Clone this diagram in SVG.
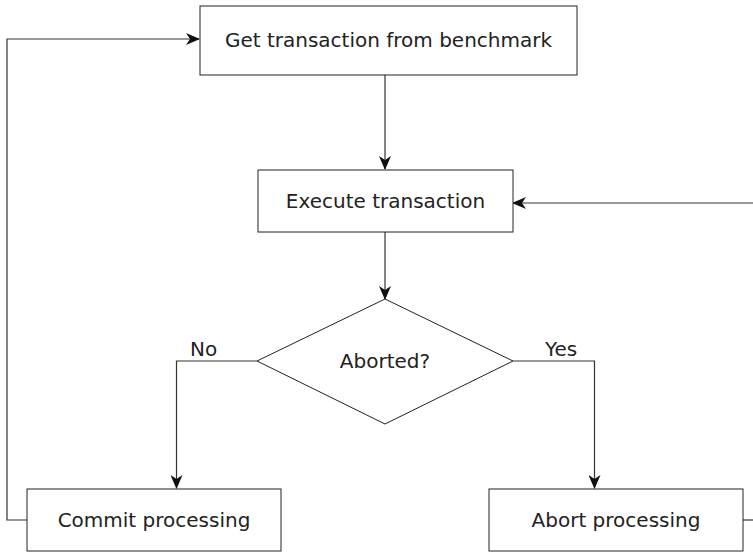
<svg xmlns="http://www.w3.org/2000/svg" width="753" height="554" viewBox="0 0 753 554">
<defs>
<marker id="arr" markerWidth="14" markerHeight="12" refX="13" refY="6" orient="auto" markerUnits="userSpaceOnUse">
<path d="M0,0 L14,6 L0,12 L4,6 Z" fill="#111"/>
</marker>
<style>
.box{fill:#fff;stroke:#222;stroke-width:1}
.t{font-family:"DejaVu Sans",Verdana,sans-serif;font-size:20px;fill:#222;text-anchor:middle}
.l{font-family:"DejaVu Sans",Verdana,sans-serif;font-size:20px;fill:#222}
.c{fill:none;stroke:#333;stroke-width:1.2}
</style>
</defs>
<rect width="753" height="554" fill="#fff"/>
<g id="connectors">
<path class="c" d="M27,520 H7 V39 H199" marker-end="url(#arr)"/>
<path class="c" d="M385,75 V169" marker-end="url(#arr)"/>
<path class="c" d="M753,203 H513" marker-end="url(#arr)"/>
<path class="c" d="M385,232 V299" marker-end="url(#arr)"/>
<path class="c" d="M257,361 H176.5 V488" marker-end="url(#arr)"/>
<path class="c" d="M513,361 H594.5 V488" marker-end="url(#arr)"/>
<path class="c" d="M743,520 H753"/>
<text class="l" x="190" y="356">No</text>
<text class="l" x="545" y="356">Yes</text>
</g>
<g id="get">
<rect class="box" x="200" y="6" width="377" height="69"/>
<text class="t" x="388.5" y="47">Get transaction from benchmark</text>
</g>
<g id="execute">
<rect class="box" x="258" y="170" width="255" height="62"/>
<text class="t" x="385.5" y="208">Execute transaction</text>
</g>
<g id="aborted">
<polygon class="box" points="385,299 513,361 385,424 257,361"/>
<text class="t" x="385" y="368">Aborted?</text>
</g>
<g id="commit">
<rect class="box" x="27" y="489" width="254" height="62"/>
<text class="t" x="154" y="527">Commit processing</text>
</g>
<g id="abort">
<rect class="box" x="489" y="489" width="254" height="62"/>
<text class="t" x="616" y="527">Abort processing</text>
</g>
</svg>
